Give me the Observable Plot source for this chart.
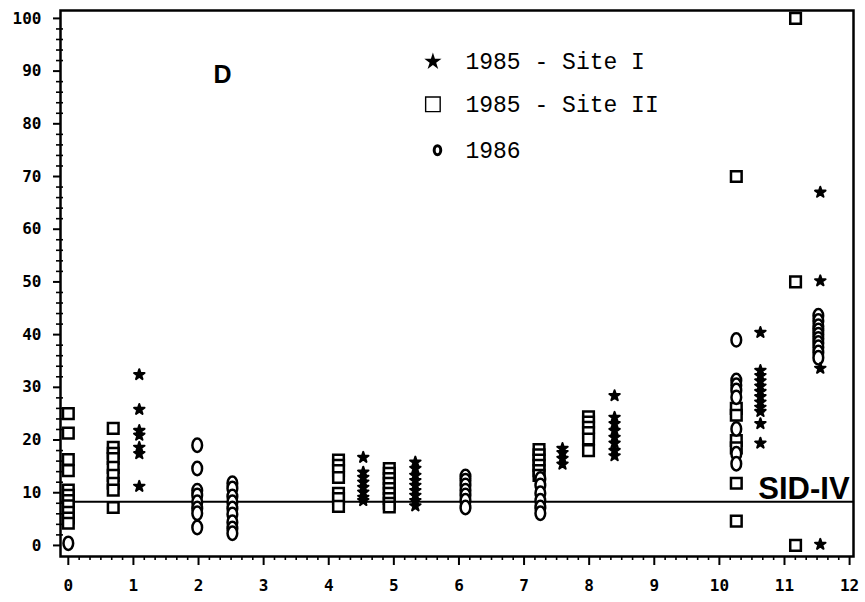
<!DOCTYPE html>
<html>
<head>
<meta charset="utf-8">
<script src="https://cdn.jsdelivr.net/npm/d3@7"></script>
<script src="https://cdn.jsdelivr.net/npm/@observablehq/plot@0.6"></script>
<style>
  html, body { margin: 0; padding: 0; background: #fff; }
  #chart svg { display: block; }
  #chart g[aria-label$="tick label"] text { font-weight: bold; }
</style>
</head>
<body>
<div id="chart"></div>
<script>
// 1985 - Site I (filled stars): one column per sampling time
const site1 = [
  { x: 1.09,  y: [32.4, 25.8, 21.8, 20.9, 18.6, 17.4, 11.2] },
  { x: 4.53,  y: [16.7, 13.9, 12.9, 12.0, 11.0, 10.1, 9.1, 8.5] },
  { x: 5.33,  y: [15.8, 14.6, 13.3, 12.3, 11.4, 10.4, 9.5, 8.5, 7.5] },
  { x: 7.59,  y: [18.4, 17.6, 16.5, 15.4] },
  { x: 8.39,  y: [28.4, 24.3, 23.1, 21.8, 20.5, 19.4, 18.0, 17.0] },
  { x: 10.63, y: [40.4, 33.2, 32.2, 31.2, 30.2, 29.2, 28.2, 27.2, 26.2, 25.4, 23.1, 19.4] },
  { x: 11.55, y: [67.0, 50.2, 33.6, 0.2] }
];

// 1985 - Site II (open squares)
const site2 = [
  { x: 0.0,   y: [25.0, 21.3, 16.3, 14.2, 10.5, 9.5, 8.5, 7.5, 6.3, 5.2, 4.2] },
  { x: 0.69,  y: [22.2, 18.6, 17.5, 16.5, 14.8, 13.3, 11.8, 10.5, 7.2] },
  { x: 4.15,  y: [16.2, 15.2, 14.2, 12.9, 9.9, 8.9, 7.4] },
  { x: 4.93,  y: [14.6, 13.7, 12.7, 11.8, 10.8, 9.9, 8.9, 8.0, 7.3] },
  { x: 7.23,  y: [18.2, 17.2, 16.2, 15.2, 14.2, 13.3] },
  { x: 7.99,  y: [24.4, 23.4, 22.4, 21.4, 20.2, 18.0] },
  { x: 10.26, y: [70.0, 26.0, 24.7, 19.9, 18.5, 11.8, 4.6] },
  { x: 11.17, y: [100.0, 50.0, 0.0] }
];

// 1986 (open ellipses)
const year1986 = [
  { x: 0.0,   y: [0.4] },
  { x: 1.98,  y: [19.0, 14.6, 10.4, 9.5, 8.2, 7.0, 6.1, 3.4] },
  { x: 2.52,  y: [11.8, 10.8, 9.3, 8.2, 7.0, 5.9, 4.4, 3.2, 2.3] },
  { x: 6.1,   y: [13.1, 12.3, 11.4, 10.4, 9.5, 8.5, 7.2] },
  { x: 7.25,  y: [12.6, 11.4, 9.9, 8.5, 7.2, 6.1] },
  { x: 10.26, y: [39.0, 31.3, 30.4, 29.4, 28.1, 22.1, 17.4, 15.5] },
  { x: 11.52, y: [43.6, 42.6, 41.6, 40.8, 40.0, 39.2, 38.4, 37.6, 36.6, 35.6] }
];

const legendLabels = ["1985 - Site I", "1985 - Site II", "1986"];
const sidIV = 8.3;            // SID-IV reference level
const xTicks = d3.range(0, 13);
const yTicks = d3.range(0, 101, 10);

const flat = groups => groups.flatMap(g => g.y.map(y => ({ x: g.x, y })));

// Upright ellipse, slightly taller than wide
const ellipse = {
  draw(ctx, size) {
    const r = Math.sqrt(size / Math.PI);
    const rx = r * 0.78, ry = r * 1.08, k = 0.5523;
    ctx.moveTo(rx, 0);
    ctx.bezierCurveTo(rx, ry * k, rx * k, ry, 0, ry);
    ctx.bezierCurveTo(-rx * k, ry, -rx, ry * k, -rx, 0);
    ctx.bezierCurveTo(-rx, -ry * k, -rx * k, -ry, 0, -ry);
    ctx.bezierCurveTo(rx * k, -ry, rx, -ry * k, rx, 0);
    ctx.closePath();
  }
};

// Legend rows, placed inside the upper part of the frame
const legendX = 5.6, legendTextX = 6.1;
const legendY = [91.8, 83.7, 75.0];
const legendRows = legendLabels.map((label, i) => ({ label, y: legendY[i] }));

const xMinor = d3.range(0, 12 * 6 + 1).map(i => i / 6).filter(v => Math.abs(v - Math.round(v)) > 1e-6);
const yMinor = d3.range(0, 101, 2).filter(v => v % 10 !== 0);

const chart = Plot.plot({
  width: 865,
  height: 602,
  marginLeft: 60,
  marginRight: 12,
  marginTop: 10,
  marginBottom: 46,
  style: { fontFamily: "'DejaVu Sans Mono', monospace", background: "#fff", color: "#000" },
  x: { domain: [-0.12, 12.06] },
  y: { domain: [-2.1, 101.5] },
  marks: [
    Plot.axisX({ ticks: xMinor, tickSize: 4, text: null, label: null, strokeWidth: 1.6 }),
    Plot.axisX({ ticks: xTicks, tickSize: 9, tickPadding: 14, tickFormat: d3.format("d"),
                 fontSize: 16, label: null, strokeWidth: 2 }),
    Plot.axisY({ ticks: yMinor, tickSize: 4, text: null, label: null, strokeWidth: 1.6 }),
    Plot.axisY({ ticks: yMinor, tickSize: -3, text: null, label: null, strokeWidth: 1.6 }),
    Plot.axisY({ ticks: yTicks, tickSize: 7, tickPadding: 12, tickFormat: d3.format("d"),
                 fontSize: 16, label: null, strokeWidth: 2 }),
    Plot.frame({ stroke: "#000", strokeWidth: 2.5 }),
    Plot.ruleY([sidIV], { stroke: "#000", strokeWidth: 2 }),
    Plot.text(["SID-IV"], { x: 12.0, y: 10.6, textAnchor: "end", fontSize: 31,
                            fontWeight: "bold", fontFamily: "'Liberation Sans', Arial, sans-serif" }),
    Plot.text(["D"], { x: 2.37, y: 89.2, fontSize: 25, fontWeight: "bold",
                       fontFamily: "'Liberation Sans', Arial, sans-serif" }),
    Plot.dot(flat(site2), { x: "x", y: "y", symbol: "square", r: 6.0, stroke: "#000",
                            strokeWidth: 2.5, fill: "#fff" }),
    Plot.dot(flat(year1986), { x: "x", y: "y", symbol: ellipse, r: 6.2, stroke: "#000",
                               strokeWidth: 2.5, fill: "#fff" }),
    Plot.dot(flat(site1), { x: "x", y: "y", symbol: "star", r: 3.3, fill: "#000", stroke: "#000",
                            strokeWidth: 2, strokeLinejoin: "round" }),
    // legend
    Plot.dot([legendRows[0]], { x: () => legendX, y: "y", symbol: "star", r: 5.4, fill: "#000" }),
    Plot.dot([legendRows[1]], { x: () => legendX, y: "y", symbol: "square", r: 8.2, stroke: "#000",
                                strokeWidth: 1.4, fill: "none" }),
    Plot.dot([legendRows[2]], { x: () => legendX + 0.07, y: "y", symbol: ellipse, r: 4.2,
                                stroke: "#000", strokeWidth: 3, fill: "none" }),
    Plot.text(legendRows, { x: () => legendTextX, y: "y", text: "label", textAnchor: "start",
                            fontSize: 23, fontFamily: "'Liberation Mono', 'Courier New', monospace" })
  ]
});

document.getElementById("chart").append(chart);
</script>
</body>
</html>
